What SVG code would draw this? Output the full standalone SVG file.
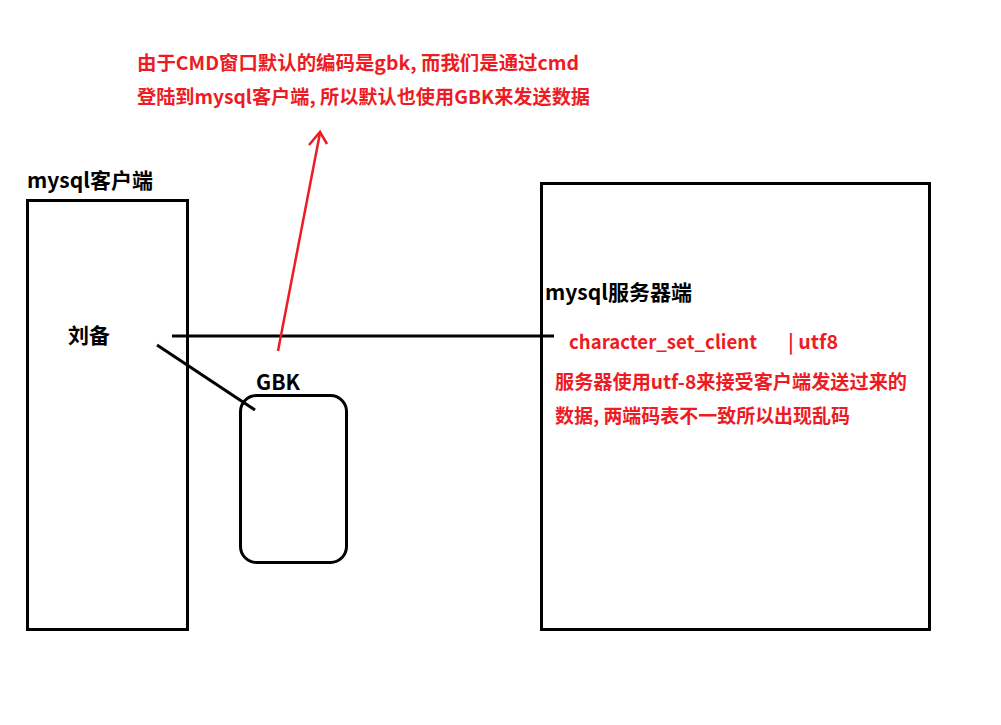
<svg xmlns="http://www.w3.org/2000/svg" width="1001" height="725" viewBox="0 0 1001 725">
<style>
.t{font-family:"Noto Sans CJK SC","Liberation Sans",sans-serif;font-weight:bold;font-size:19px}
.k{fill:#000;font-size:21px}
.r{fill:#ed1c24}
.box{fill:none;stroke:#000;stroke-width:3}
</style>
<rect width="1001" height="725" fill="#fff"/>
<g id="client">
<rect class="box" x="27.5" y="200.5" width="160" height="429"/>
<text class="t k" x="27" y="188" textLength="126" lengthAdjust="spacingAndGlyphs">mysql客户端</text>
<text class="t k" x="68" y="343" textLength="42" lengthAdjust="spacingAndGlyphs">刘备</text>
</g>
<g id="gbk">
<rect class="box" x="240.5" y="395.5" width="106" height="167" rx="16"/>
<text class="t k" x="256" y="390" textLength="44" lengthAdjust="spacingAndGlyphs">GBK</text>
</g>
<g id="server">
<rect class="box" x="541.5" y="183.5" width="388" height="446"/>
<text class="t k" x="545" y="300" textLength="147" lengthAdjust="spacingAndGlyphs">mysql服务器端</text>
<text class="t r" x="569" y="349" textLength="188" lengthAdjust="spacingAndGlyphs">character_set_client</text>
<text class="t r" x="788" y="349" textLength="50" lengthAdjust="spacingAndGlyphs">| utf8</text>
<text class="t r" x="555" y="389" textLength="352" lengthAdjust="spacingAndGlyphs">服务器使用utf-8来接受客户端发送过来的</text>
<text class="t r" x="555" y="423" textLength="295" lengthAdjust="spacingAndGlyphs">数据, 两端码表不一致所以出现乱码</text>
</g>
<g id="note">
<text class="t r" x="137" y="70" textLength="442" lengthAdjust="spacingAndGlyphs">由于CMD窗口默认的编码是gbk, 而我们是通过cmd</text>
<text class="t r" x="137" y="104" textLength="453" lengthAdjust="spacingAndGlyphs">登陆到mysql客户端, 所以默认也使用GBK来发送数据</text>
</g>
<g id="connectors" fill="none" stroke-width="3">
<line x1="172" y1="336" x2="554" y2="336" stroke="#000"/>
<line x1="157" y1="345" x2="255" y2="410" stroke="#000"/>
<line x1="278" y1="351" x2="320" y2="133" stroke="#ed1c24" stroke-width="2.5"/>
<polyline points="309,145 320,132 327,144" stroke="#ed1c24" stroke-width="2.5"/>
</g>
</svg>
